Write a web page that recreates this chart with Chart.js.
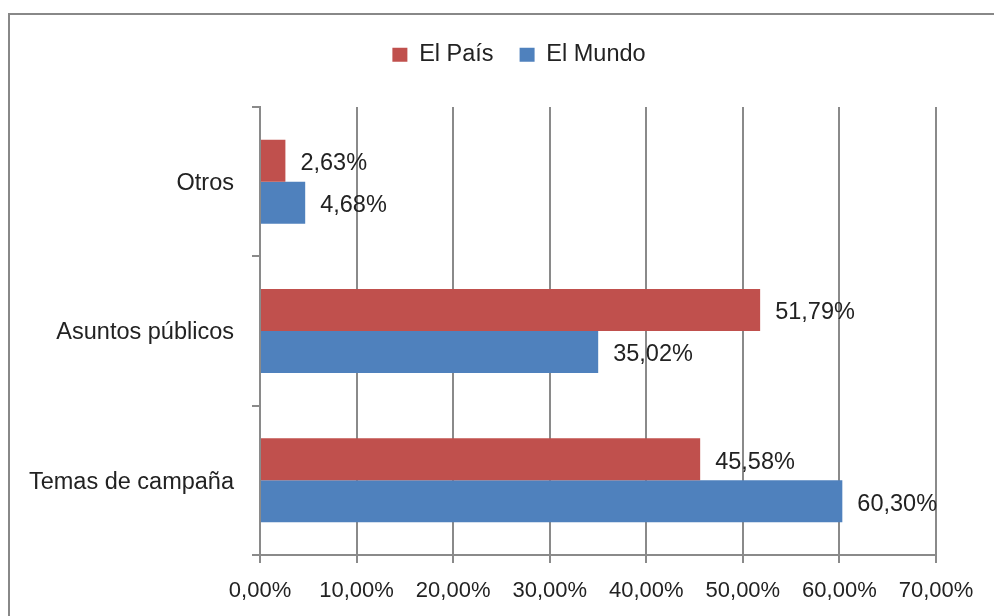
<!DOCTYPE html>
<html>
<head>
<meta charset="utf-8">
<script src="https://cdn.jsdelivr.net/npm/chart.js@4"></script>
<style>
  html, body { margin: 0; padding: 0; background: #fff; }
  #wrap { width: 994px; height: 616px; }
</style>
</head>
<body>
<div id="wrap"><canvas id="chart" width="994" height="616"></canvas></div>
<script>
// categories top to bottom
const categories = ["Otros", "Asuntos públicos", "Temas de campaña"];
const elPais = [2.63, 51.79, 45.58];
const elMundo = [4.68, 35.02, 60.30];
const xTicks = [0, 10, 20, 30, 40, 50, 60, 70];

const FONT = "'Liberation Sans', Arial, sans-serif";
const GRID = "#8a8a8a";
const TEXT = "#222";

const pct = v => v.toFixed(2).replace(".", ",") + "%";

// outer frame, only left and top edges are visible in the crop
const framePlugin = {
  id: "frame",
  beforeDraw(chart) {
    const ctx = chart.ctx;
    ctx.save();
    ctx.strokeStyle = "#888";
    ctx.lineWidth = 2;
    ctx.strokeRect(9, 14, 2000, 2000);
    ctx.restore();
  }
};

// fixed legend height and a small shift to the right
const legendPlugin = {
  id: "legendFix",
  beforeLayout(chart) {
    const lg = chart.legend;
    if (lg && !lg._patched) {
      const orig = lg.fit;
      lg.fit = function () {
        orig.call(this);
        this.height = 107;
      };
      lg._patched = true;
    }
  },
  afterLayout(chart) {
    const lg = chart.legend;
    lg.left += 46;
    lg.right += 46;
    lg.top = 17;
  }
};

// value labels at the end of each bar
const valueLabels = {
  id: "valueLabels",
  afterDatasetsDraw(chart) {
    const ctx = chart.ctx;
    ctx.save();
    ctx.font = "23.5px " + FONT;
    ctx.fillStyle = TEXT;
    ctx.textAlign = "left";
    ctx.textBaseline = "middle";
    chart.data.datasets.forEach((ds, i) => {
      chart.getDatasetMeta(i).data.forEach((bar, j) => {
        ctx.fillText(pct(ds.data[j]), bar.x + 15, bar.y + 3);
      });
    });
    ctx.restore();
  }
};

new Chart(document.getElementById("chart"), {
  type: "bar",
  data: {
    labels: categories,
    datasets: [
      { label: "El País", data: elPais, backgroundColor: "#C0504D" },
      { label: "El Mundo", data: elMundo, backgroundColor: "#4F81BD" }
    ]
  },
  options: {
    indexAxis: "y",
    responsive: false,
    animation: false,
    barPercentage: 1,
    categoryPercentage: 0.5625,
    layout: { padding: { left: 10, right: 58, top: 0, bottom: 0 } },
    plugins: {
      legend: {
        position: "top",
        labels: {
          font: { family: FONT, size: 23.5 },
          color: TEXT,
          boxWidth: 15,
          boxHeight: 14,
          padding: 26
        }
      },
      tooltip: { enabled: false }
    },
    scales: {
      x: {
        min: 0,
        max: 70,
        afterBuildTicks(scale) {
          scale.ticks = xTicks.map(v => ({ value: v }));
        },
        afterFit(scale) { scale.height = 61; },
        ticks: {
          callback: v => pct(v),
          font: { family: FONT, size: 22 },
          color: TEXT,
          padding: 15,
          maxRotation: 0
        },
        grid: { color: GRID, lineWidth: 2, tickLength: 8 },
        border: { color: GRID, width: 2 }
      },
      y: {
        afterFit(scale) { scale.width = 250; },
        ticks: {
          font: { family: FONT, size: 23.5 },
          color: TEXT,
          padding: 18,
          labelOffset: 2
        },
        grid: { color: GRID, lineWidth: 2, drawOnChartArea: false, offset: true, tickLength: 8 },
        border: { color: GRID, width: 2 }
      }
    }
  },
  plugins: [framePlugin, legendPlugin, valueLabels]
});
</script>
</body>
</html>
